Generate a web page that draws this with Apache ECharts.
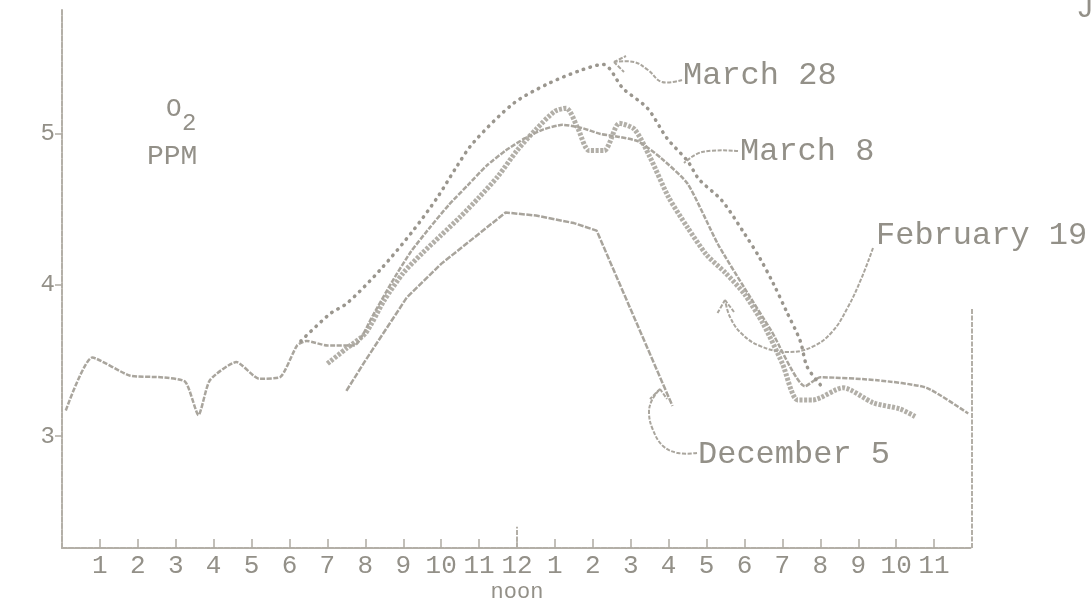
<!DOCTYPE html>
<html><head><meta charset="utf-8">
<script src="https://cdn.jsdelivr.net/npm/echarts@6/dist/echarts.min.js"></script>
<style>html,body{margin:0;padding:0;background:#fff}#c{width:1091px;height:614px}</style>
</head><body><div id="c"></div>
<script>
// ---- axis ticks ----
const xTickHours  = [1,2,3,4,5,6,7,8,9,10,11,12,13,14,15,16,17,18,19,20,21,22,23];
const xTickLabels = ['1','2','3','4','5','6','7','8','9','10','11','12','1','2','3','4','5','6','7','8','9','10','11'];
const yTickValues = [3,4,5];

// ---- series (hour of day, O2 ppm) ----
const march8Hours  = [0.1,0.8,1.8,2.6,3.25,3.6,3.9,4.6,5.2,5.75,6.2,6.45,7.0,7.7,8.2,8.7,9.2,9.7,10.2,10.7,11.2,11.7,12.2,12.7,13.2,13.7,14.2,14.7,15.2,15.8,16.5,17.3,18.0,18.7,19.6,20.0,21.5,22.8,23.9];
const march8Values = [3.17,3.52,3.40,3.39,3.36,3.14,3.37,3.49,3.38,3.39,3.60,3.63,3.60,3.60,3.80,4.02,4.22,4.38,4.53,4.66,4.79,4.89,4.97,5.03,5.06,5.04,5.00,4.98,4.95,4.84,4.67,4.27,3.98,3.70,3.33,3.39,3.37,3.32,3.15];

const feb19Hours  = [7.0,7.5,8.0,8.5,9.0,9.5,10.0,10.5,11.0,11.5,12.0,12.5,13.0,13.3,13.6,13.9,14.3,14.7,15.1,15.5,16.0,16.5,17.0,17.5,18.0,18.5,19.0,19.4,19.8,20.6,21.4,22.1,22.5];
const feb19Values = [3.48,3.58,3.68,3.90,4.08,4.21,4.33,4.45,4.58,4.72,4.89,5.03,5.15,5.17,5.04,4.89,4.89,5.07,5.03,4.85,4.58,4.38,4.20,4.08,3.94,3.74,3.48,3.24,3.24,3.32,3.22,3.18,3.13];

const march28Hours  = [6.3,7.07,7.52,8.39,9.26,9.9,10.4,10.84,11.9,12.8,13.67,14.27,14.8,15.44,15.96,16.5,16.8,17.4,18.0,18.4,18.76,19.1,19.47,19.65,20.0];
const march28Values = [3.63,3.81,3.88,4.10,4.36,4.58,4.78,4.94,5.20,5.33,5.42,5.46,5.30,5.17,4.97,4.82,4.70,4.56,4.34,4.18,4.01,3.83,3.63,3.46,3.34];

const dec5Hours  = [7.5,8.0,9.1,10.0,11.0,11.7,12.5,13.5,14.1,16.1];
const dec5Values = [3.30,3.50,3.92,4.14,4.34,4.48,4.46,4.41,4.36,3.20];

const zip = (h, v) => h.map((x, i) => [x, v[i]]);
const ink = '#939088';
const font = 'Liberation Mono';

const chart = echarts.init(document.getElementById('c'), null, {renderer: 'canvas'});

function txt(x, y, s, size, extra) {
  return Object.assign({type: 'text', x: x, y: y, style: {text: s, font: size + 'px "' + font + '"', fill: ink, textVerticalAlign: 'middle'}}, extra || {});
}
function pl(points) {
  return {type: 'polyline', shape: {points: points, smooth: 0.4}, style: {stroke: '#aaa69e', lineWidth: 2, fill: null, lineDash: [4, 1.5]}};
}

chart.setOption({
  backgroundColor: '#ffffff',
  animation: false,
  grid: {left: 62, right: 119, top: 10, bottom: 66},
  xAxis: {
    type: 'value', min: 0, max: 24,
    axisLine: {show: true, lineStyle: {color: '#b3afa7', width: 2, type: [5, 1.5]}},
    axisTick: {show: true, inside: true, length: 9, customValues: xTickHours, lineStyle: {color: '#aeaaa2', width: 1.5}},
    axisLabel: {
      customValues: xTickHours, margin: 5, color: ink, fontFamily: font, fontSize: 26, lineHeight: 26,
      formatter: v => { const i = xTickHours.indexOf(v); const s = i >= 0 ? xTickLabels[i] : ''; return v === 12 ? s + '\n{n|noon}' : s; },
      rich: {n: {fontFamily: font, fontSize: 22, color: ink, lineHeight: 26}}
    },
    splitLine: {show: false}
  },
  yAxis: {
    type: 'value', min: 2.26, max: 5.82,
    axisLine: {show: true, lineStyle: {color: '#b3afa7', width: 2, type: [5, 1.5]}},
    axisTick: {show: true, length: 7, customValues: yTickValues, lineStyle: {color: '#aeaaa2', width: 1.5}},
    axisLabel: {customValues: yTickValues, margin: 7, color: ink, fontFamily: font, fontSize: 24, formatter: v => String(v)},
    splitLine: {show: false}
  },
  series: [
    {name: 'February 19', type: 'line', data: zip(feb19Hours, feb19Values), symbol: 'none', smooth: 0.25,
     lineStyle: {color: '#aaa69e', width: 5, type: [3, 1.5], opacity: 0.9}},
    {name: 'March 8', type: 'line', data: zip(march8Hours, march8Values), symbol: 'none', smooth: 0.2,
     lineStyle: {color: '#a9a59d', width: 2.5, type: [5, 1.5]},
     markLine: {silent: true, symbol: 'none', label: {show: false},
       lineStyle: {color: '#b3afa7', width: 2, type: [5, 1.5]},
       data: [[{coord: [24, 2.26]}, {coord: [24, 3.85]}], [{coord: [12, 2.26]}, {coord: [12, 2.40]}]]}},
    {name: 'March 28', type: 'line', data: zip(march28Hours, march28Values), symbol: 'none', smooth: 0.3,
     lineStyle: {color: '#9a968e', width: 3.5, type: [0.5, 6.5], cap: 'round'}},
    {name: 'December 5', type: 'line', data: zip(dec5Hours, dec5Values), symbol: 'none', smooth: false,
     lineStyle: {color: '#a8a49c', width: 2.5, type: [6, 1.5]}}
  ],
  graphic: [
    txt(166, 109, 'O', 26),
    txt(182, 124, '2', 24),
    txt(147, 157, 'PPM', 28),
    txt(683, 76, 'March 28', 32),
    txt(740, 152, 'March 8', 32),
    txt(876, 236, 'February 19', 32),
    txt(698, 455, 'December 5', 32),
    txt(1076, 9, 'J', 30),
    // leaders
    pl([[682, 80], [662, 82], [648, 70], [634, 62], [614, 62]]),
    pl([[614, 62], [626, 56]]), pl([[614, 62], [624, 72]]),
    pl([[738, 151], [702, 152], [684, 163]]),
    pl([[873, 248], [862, 277], [848, 307], [832, 332], [812, 347], [788, 352], [760, 346], [741, 333], [730, 317], [725, 300]]),
    pl([[725, 300], [717, 314]]), pl([[725, 300], [734, 312]]),
    pl([[697, 453], [678, 453], [663, 446], [653, 430], [649, 413], [652, 400], [660, 389]]),
    pl([[660, 389], [650, 399]]), pl([[660, 389], [667, 399]])
  ]
});
</script></body></html>
